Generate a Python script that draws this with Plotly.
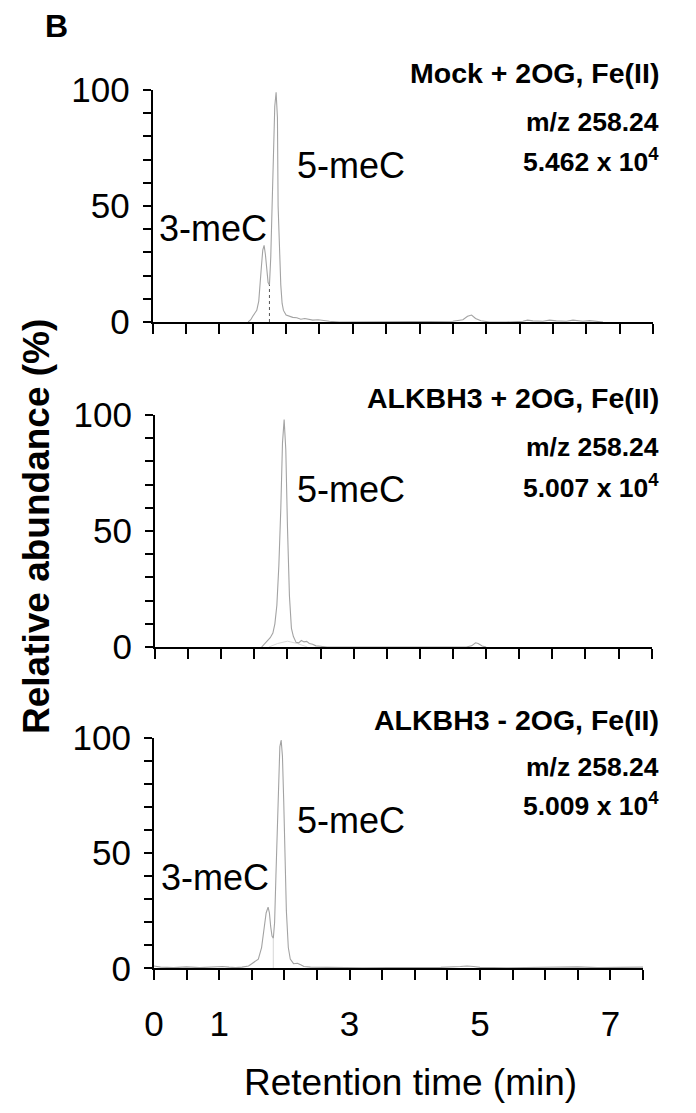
import plotly.graph_objects as go

# ---------------- data ----------------
# Panel 1: Mock + 2OG, Fe(II)
mock_t = [1.43, 1.47, 1.50, 1.53, 1.56, 1.59, 1.61, 1.63, 1.65, 1.67, 1.69, 1.71, 1.73, 1.75,
          1.77, 1.79, 1.81, 1.83, 1.85, 1.87, 1.88, 1.90, 1.92, 1.94, 1.96, 2.00, 2.05, 2.10,
          2.16, 2.22, 2.28, 2.34, 2.40, 2.48, 2.56, 2.65, 2.80, 3.00, 3.50, 4.00, 4.50, 4.65,
          4.72, 4.78, 4.84, 4.92, 5.05, 5.30, 5.55, 5.62, 5.70, 5.85, 5.95, 6.05, 6.20, 6.30,
          6.45, 6.55, 6.75]
mock_y = [0.0, 1.0, 2.5, 4.0, 5.0, 9.0, 15.0, 24.0, 31.0, 33.0, 29.0, 22.0, 17.0, 16.0,
          28.0, 50.0, 75.0, 93.0, 99.0, 88.0, 50.0, 30.0, 16.0, 8.0, 5.0, 3.0, 2.5, 2.0,
          1.8, 1.2, 1.5, 1.3, 0.8, 1.0, 0.6, 0.3, 0.0, 0.0, 0.0, 0.0, 0.3, 1.0,
          2.5, 3.0, 1.5, 0.5, 0.0, 0.0, 0.3, 0.8, 0.5, 0.3, 0.8, 0.5, 0.3, 0.8,
          0.3, 0.6, 0.0]
mock_split_t = [1.75, 1.75]
mock_split_y = [0.0, 16.0]

# Panel 2: ALKBH3 + 2OG, Fe(II)
plus_t = [1.61, 1.66, 1.70, 1.74, 1.78, 1.81, 1.84, 1.87, 1.90, 1.925, 1.95, 1.975, 2.00,
          2.03, 2.06, 2.09, 2.13, 2.17, 2.21, 2.25, 2.29, 2.33, 2.38, 2.43, 2.50, 2.60,
          4.70, 4.78, 4.84, 4.88, 4.94, 5.00]
plus_y = [0.0, 1.5, 2.5, 4.0, 6.0, 10.0, 18.0, 35.0, 60.0, 88.0, 98.0, 85.0, 52.0,
          22.0, 8.0, 4.5, 2.0, 1.8, 2.8, 2.2, 2.4, 1.5, 1.2, 0.5, 0.3, 0.0,
          0.0, 0.5, 1.8, 1.5, 0.4, 0.0]
plus_base_t = [1.72, 1.85, 2.00, 2.15, 2.30]
plus_base_y = [0.0, 1.5, 2.5, 1.5, 0.0]

# Panel 3: ALKBH3 - 2OG, Fe(II)
minus_t = [0.00, 0.10, 0.30, 0.50, 0.70, 0.90, 1.05, 1.15, 1.25, 1.35, 1.45, 1.50, 1.55,
           1.60, 1.65, 1.69, 1.72, 1.75, 1.77, 1.79, 1.81, 1.83, 1.85, 1.87, 1.89, 1.91,
           1.93, 1.95, 1.97, 1.99, 2.01, 2.03, 2.06, 2.09, 2.14, 2.20, 2.25, 2.30, 2.40,
           2.55, 2.80, 3.20, 3.60, 4.00, 4.40, 4.70, 4.80, 4.90, 5.00, 5.40, 5.80, 6.20,
           6.50, 6.80, 7.20, 7.50]
minus_y = [1.0, 0.5, 0.3, 0.6, 0.3, 0.5, 0.8, 0.5, 0.3, 0.5, 1.0, 2.0, 3.0,
           4.0, 9.0, 17.0, 24.0, 26.5, 24.0, 18.0, 14.0, 13.0, 20.0, 40.0, 58.0, 82.0,
           96.0, 99.0, 92.0, 72.0, 48.0, 25.0, 9.0, 4.0, 2.0, 2.2, 1.5, 0.8, 0.5,
           0.4, 0.3, 0.2, 0.3, 0.3, 0.4, 0.8, 1.0, 0.8, 0.4, 0.2, 0.3, 0.4,
           0.6, 0.3, 0.3, 0.5]
minus_split_t = [1.83, 1.83]
minus_split_y = [0.0, 13.0]

panel_titles = ["Mock + 2OG, Fe(II)", "ALKBH3 + 2OG, Fe(II)", "ALKBH3 - 2OG, Fe(II)"]
panel_mz = ["m/z 258.24", "m/z 258.24", "m/z 258.24"]
panel_intensity = ["5.462 x 10<sup>4</sup>", "5.007 x 10<sup>4</sup>", "5.009 x 10<sup>4</sup>"]

x_major_ticks = [0, 1, 3, 5, 7]
x_major_labels = ["0", "1", "3", "5", "7"]
x_minor_ticks = [i * 0.5 for i in range(16)]
y_major_ticks = [0, 50, 100]
y_major_labels = ["0", "50", "100"]
y_minor_ticks = list(range(0, 101, 10))

# ---------------- figure ----------------
W, H = 696, 1113
FONT = "Liberation Sans, Arial, Helvetica, sans-serif"
TRACE = "#a3a3a3"

def px(x):
    return x / W

def py(y):
    return 1 - y / H

# pixel boxes of each panel: (x_left, x_right, y_top, y_bottom)
boxes = [(152.7, 653.0, 90.0, 322.0),
         (155.0, 651.7, 415.0, 647.0),
         (154.0, 643.0, 737.7, 968.3)]

fig = go.Figure()

def add(x, y, i, color=TRACE, width=1.1, dash="solid"):
    sfx = "" if i == 0 else str(i + 1)
    fig.add_trace(go.Scatter(x=x, y=y, mode="lines", xaxis="x" + sfx, yaxis="y" + sfx,
                             line=dict(color=color, width=width, dash=dash),
                             showlegend=False, hoverinfo="skip"))

add(mock_t, mock_y, 0)
add(mock_split_t, mock_split_y, 0, color="#555555", width=1, dash="dot")
add(plus_base_t, plus_base_y, 1, color="#d8d8d8", width=1)
add(plus_t, plus_y, 1)
add(minus_split_t, minus_split_y, 2, color="#dddddd", width=1.2)
add(minus_t, minus_y, 2)

layout = dict(template="none", width=W, height=H,
              margin=dict(l=0, r=0, t=0, b=0, pad=0, autoexpand=False),
              paper_bgcolor="white", plot_bgcolor="white",
              font=dict(family=FONT, color="black"), showlegend=False)

for i, (xl, xr, yt, yb) in enumerate(boxes):
    sfx = "" if i == 0 else str(i + 1)
    last = i == 2
    layout["xaxis" + sfx] = dict(
        domain=[px(xl), px(xr)], range=[0, 7.5], anchor="y" + sfx, automargin=False,
        tickmode="array", tickvals=x_major_ticks, ticktext=x_major_labels,
        showticklabels=last,
        ticks="outside", ticklen=10, tickwidth=2, tickcolor="black",
        minor=dict(tickmode="array", tickvals=x_minor_ticks, ticks="outside",
                   ticklen=10, tickwidth=2, tickcolor="black", showgrid=False),
        showline=True, linewidth=2, linecolor="black",
        showgrid=False, zeroline=False,
        tickfont=dict(size=35, family=FONT, color="black"),
        ticklabelstandoff=14)
    layout["yaxis" + sfx] = dict(
        domain=[py(yb), py(yt)], range=[0, 100], anchor="x" + sfx, automargin=False,
        tickmode="array", tickvals=y_major_ticks, ticktext=y_major_labels,
        ticks="outside", ticklen=8, tickwidth=2, tickcolor="black",
        minor=dict(tickmode="array", tickvals=y_minor_ticks, ticks="outside",
                   ticklen=8, tickwidth=2, tickcolor="black", showgrid=False),
        showline=True, linewidth=2, linecolor="black",
        showgrid=False, zeroline=False,
        tickfont=dict(size=35, family=FONT, color="black"),
        ticklabelstandoff=6)

fig.update_layout(**layout)

anns = []
title_y = [73, 398, 720]
mz_y = [122, 447, 767]
int_y = [160, 486, 804]
for i in range(3):
    for txt, yy, fs in ((panel_titles[i], title_y[i], 28.5), (panel_mz[i], mz_y[i], 26.5),
                        (panel_intensity[i], int_y[i], 26.5)):
        anns.append(dict(text="<b>" + txt + "</b>", x=px(661), y=py(yy), xref="paper", yref="paper",
                         xanchor="right", yanchor="middle", showarrow=False,
                         font=dict(size=fs, family=FONT, color="black")))

# peak labels in data coordinates
peak_labels = [("3-meC", 0.07, 40.5, ""), ("5-meC", 2.13, 67.5, ""),
               ("5-meC", 2.11, 68.0, "2"),
               ("3-meC", 0.08, 39.5, "3"), ("5-meC", 2.16, 64.2, "3")]
for txt, x, y, sfx in peak_labels:
    anns.append(dict(text=txt, x=x, y=y, xref="x" + sfx, yref="y" + sfx,
                     xanchor="left", yanchor="middle", showarrow=False,
                     font=dict(size=36, family=FONT, color="black")))

anns.append(dict(text="<b>B</b>", x=px(56), y=py(26), xref="paper", yref="paper",
                 xanchor="center", yanchor="middle", showarrow=False,
                 font=dict(size=32, family=FONT, color="black")))
anns.append(dict(text="<b>Relative abundance (%)</b>", x=px(37), y=py(527), xref="paper", yref="paper",
                 xanchor="center", yanchor="middle", textangle=-90, showarrow=False,
                 font=dict(size=37, family=FONT, color="black")))
anns.append(dict(text="Retention time (min)", x=px(410), y=py(1082), xref="paper", yref="paper",
                 xanchor="center", yanchor="middle", showarrow=False,
                 font=dict(size=37, family=FONT, color="black")))

fig.update_layout(annotations=anns)
fig.write_html("out.html")
